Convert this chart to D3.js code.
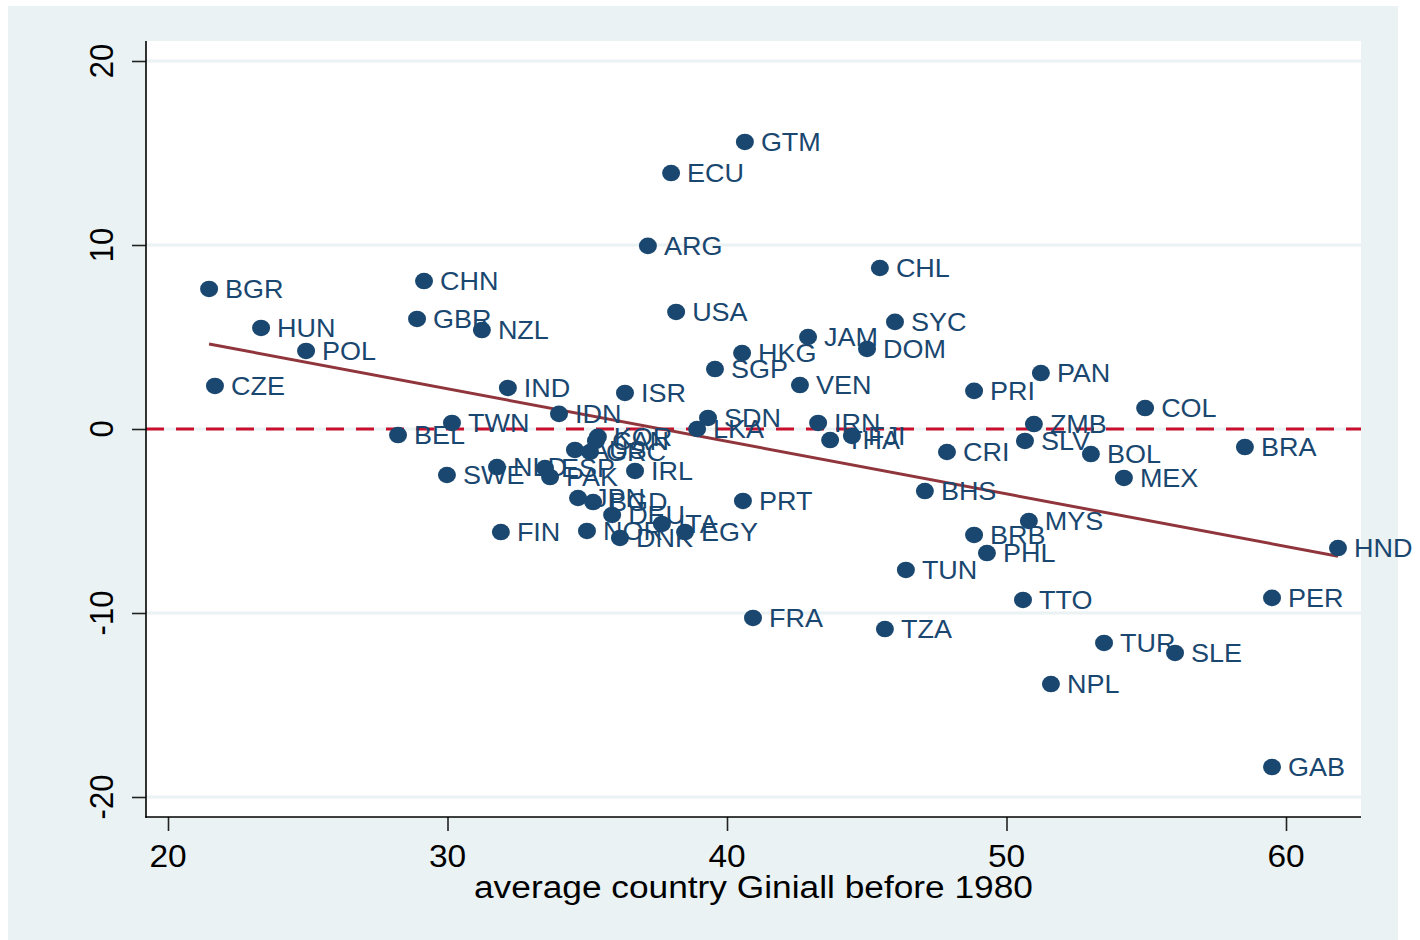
<!DOCTYPE html>
<html>
<head>
<meta charset="utf-8">
<script src="https://cdn.jsdelivr.net/npm/d3@7"></script>
<style>
  html, body { margin: 0; padding: 0; background: #ffffff; }
  svg { display: block; }
  text { font-family: "Liberation Sans", Arial, Helvetica, sans-serif; }
</style>
</head>
<body>
<svg id="chart" width="1420" height="940"></svg>
<script>
// ---- data ----
const codes = ["GTM","ECU","ARG","CHL","BGR","CHN","GBR","NZL","HUN","POL",
  "USA","SYC","JAM","DOM","HKG","SGP","VEN","PAN","PRI","COL",
  "CZE","IND","ISR","IDN","TWN","BEL","SDN","LKA","IRN","THA",
  "FJI","ZMB","SLV","BRA","CRI","BOL","MEX","BHS","PRT","KOR",
  "CAN","AUS","GRC","NLD","ESP","SWE","PAK","IRL","JPN","BGD",
  "DEU","ITA","EGY","FIN","NOR","DNK","MYS","BRB","PHL","HND",
  "TUN","TTO","PER","FRA","TZA","TUR","SLE","NPL","GAB"];
const giniBefore1980 = [40.64,38.00,37.17,45.47,21.47,29.16,28.91,31.23,23.33,24.94,
  38.18,46.01,42.90,45.01,40.54,39.57,42.61,51.23,48.84,54.96,
  21.68,32.16,36.35,33.99,30.16,28.23,39.32,38.93,43.26,43.69,
  44.47,50.98,50.66,58.53,47.87,53.02,54.20,47.08,40.57,35.38,
  35.31,34.56,35.10,31.77,33.49,29.98,33.67,36.71,34.67,35.21,
  35.89,37.67,38.50,31.91,34.99,36.17,50.80,48.84,49.30,61.86,
  46.40,50.59,59.50,40.93,45.65,53.49,56.03,51.59,59.50];
const residValue = [15.60,13.91,9.95,8.75,7.61,8.04,5.98,5.38,5.49,4.24,
  6.36,5.82,5.00,4.35,4.13,3.26,2.39,3.04,2.07,1.14,
  2.34,2.23,1.96,0.82,0.33,-0.33,0.60,0.00,0.33,-0.60,
  -0.38,0.27,-0.65,-0.98,-1.25,-1.36,-2.66,-3.37,-3.91,-0.43,
  -0.65,-1.14,-1.25,-2.07,-2.12,-2.50,-2.61,-2.28,-3.75,-3.97,
  -4.67,-5.16,-5.60,-5.60,-5.54,-5.92,-5.00,-5.76,-6.74,-6.47,
  -7.66,-9.29,-9.18,-10.27,-10.87,-11.63,-12.17,-13.86,-18.37];
const xTicks = [20, 30, 40, 50, 60];
const yTicks = [-20, -10, 0, 10, 20];
const xTitle = "average country Giniall before 1980";
const refValue = 0;

// ---- layout ----
const W = 1420, H = 940;
const frame = { left: 146, right: 1361, top: 41, bottom: 817 };
const colors = {
  bg: "#eaf2f3", plot: "#ffffff", grid: "#eaf2f3",
  marker: "#1a476f", fit: "#90353b", ref: "#c8102e", axis: "#000000"
};
const sx = 1.08; // horizontal stretch of text seen in the reference

const x = d3.scaleLinear().domain([20, 60]).range([168, 1286]);
const y = d3.scaleLinear().domain([-20, 20]).range([797, 61]);

const svg = d3.select("#chart");

svg.append("rect").attr("x", 8).attr("y", 6).attr("width", 1390).attr("height", 934)
  .attr("fill", colors.bg);
svg.append("rect").attr("x", frame.left).attr("y", frame.top)
  .attr("width", frame.right - frame.left).attr("height", frame.bottom - frame.top)
  .attr("fill", colors.plot);

// gridlines
svg.append("g").selectAll("line").data(yTicks).join("line")
  .attr("x1", frame.left).attr("x2", frame.right)
  .attr("y1", d => y(d)).attr("y2", d => y(d))
  .attr("stroke", colors.grid).attr("stroke-width", 3);

// reference line at 0
svg.append("line")
  .attr("x1", frame.left).attr("x2", frame.right)
  .attr("y1", y(refValue)).attr("y2", y(refValue))
  .attr("stroke", colors.ref).attr("stroke-width", 3)
  .attr("stroke-dasharray", "18,12");

// data table
const data = codes.map((c, i) => ({ code: c, gx: giniBefore1980[i], gy: residValue[i] }));

// OLS fit line
const n = data.length;
const mx = d3.mean(data, d => d.gx), my = d3.mean(data, d => d.gy);
const sxy = d3.sum(data, d => (d.gx - mx) * (d.gy - my));
const sxx = d3.sum(data, d => (d.gx - mx) ** 2);
const slope = sxy / sxx, intercept = my - slope * mx;
const [xmin, xmax] = d3.extent(data, d => d.gx);
const fitPts = [xmin, xmax].map(v => [v, intercept + slope * v]);
svg.append("path")
  .attr("d", d3.line().x(d => x(d[0])).y(d => y(d[1]))(fitPts))
  .attr("fill", "none").attr("stroke", colors.fit).attr("stroke-width", 3);

// markers
svg.append("g").selectAll("ellipse").data(data).join("ellipse")
  .attr("cx", d => x(d.gx)).attr("cy", d => y(d.gy))
  .attr("rx", 9).attr("ry", 8.3)
  .attr("fill", colors.marker);

// labels
svg.append("g").selectAll("text").data(data).join("text")
  .attr("transform", d => `translate(${x(d.gx) + 16},${y(d.gy) + 9}) scale(${sx},1)`)
  .attr("font-size", 25)
  .attr("fill", colors.marker)
  .text(d => d.code);

// axes (ticks from d3 axes)
const xAxis = svg.append("g").attr("transform", `translate(0,${frame.bottom})`)
  .call(d3.axisBottom(x).tickValues(xTicks).tickSize(14).tickFormat(""));
const yAxis = svg.append("g").attr("transform", `translate(${frame.left},0)`)
  .call(d3.axisLeft(y).tickValues(yTicks).tickSize(14).tickFormat(""));
[xAxis, yAxis].forEach(g => {
  g.select(".domain").remove();
  g.selectAll(".tick line").attr("stroke", "#222").attr("stroke-width", 1.6);
});
// axis lines across the frame
svg.append("line").attr("x1", frame.left).attr("x2", frame.left)
  .attr("y1", frame.top).attr("y2", frame.bottom + 0.8)
  .attr("stroke", colors.axis).attr("stroke-width", 1.6);
svg.append("line").attr("x1", frame.left - 0.8).attr("x2", frame.right)
  .attr("y1", frame.bottom).attr("y2", frame.bottom)
  .attr("stroke", colors.axis).attr("stroke-width", 1.6);

// tick labels
svg.append("g").selectAll("text").data(xTicks).join("text")
  .attr("transform", d => `translate(${x(d)},867) scale(${sx},1)`)
  .attr("text-anchor", "middle").attr("font-size", 31).attr("fill", "#000")
  .text(d => d);
svg.append("g").selectAll("text").data(yTicks).join("text")
  .attr("transform", d => `translate(113,${y(d)}) scale(${sx},1) rotate(-90)`)
  .attr("text-anchor", "middle").attr("font-size", 31).attr("fill", "#000")
  .text(d => d);

// axis title
svg.append("text")
  .attr("x", (frame.left + frame.right) / 2).attr("y", 898)
  .attr("text-anchor", "middle").attr("font-size", 31).attr("fill", "#000")
  .attr("textLength", 559).attr("lengthAdjust", "spacingAndGlyphs")
  .text(xTitle);
</script>
</body>
</html>
